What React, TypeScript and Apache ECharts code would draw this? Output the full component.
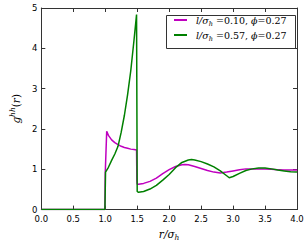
import React, { useEffect, useRef } from "react";
import * as echarts from "echarts";

const xTicks = [0, 0.5, 1, 1.5, 2, 2.5, 3, 3.5, 4];
const yTicks = [0, 1, 2, 3, 4, 5];

const magentaX = [0, 0.995, 1.0, 1.023, 1.05, 1.1, 1.15, 1.2, 1.25, 1.3, 1.35, 1.4, 1.45, 1.49, 1.495, 1.5, 1.52, 1.6, 1.7, 1.8, 1.9, 2.0, 2.1, 2.2, 2.25, 2.3, 2.4, 2.5, 2.6, 2.7, 2.8, 2.9, 3.0, 3.1, 3.2, 3.3, 3.4, 3.5, 3.6, 3.7, 3.8, 3.9, 4.0];
const magentaY = [0, 0, 0.9, 1.94, 1.84, 1.73, 1.66, 1.61, 1.57, 1.54, 1.52, 1.5, 1.49, 1.48, 0.72, 0.63, 0.63, 0.65, 0.7, 0.78, 0.89, 0.99, 1.07, 1.11, 1.12, 1.11, 1.07, 1.02, 0.97, 0.93, 0.91, 0.93, 0.96, 0.99, 1.01, 1.01, 1.01, 1.01, 1.0, 0.99, 0.98, 0.98, 0.98];

const greenX = [0, 0.995, 1.005, 1.05, 1.1, 1.15, 1.2, 1.25, 1.3, 1.35, 1.4, 1.45, 1.49, 1.5, 1.52, 1.6, 1.7, 1.8, 1.9, 2.0, 2.1, 2.2, 2.3, 2.35, 2.4, 2.5, 2.6, 2.7, 2.8, 2.9, 2.94, 3.0, 3.1, 3.2, 3.3, 3.4, 3.5, 3.6, 3.7, 3.8, 3.9, 4.0];
const greenY = [0, 0, 0.93, 1.05, 1.22, 1.38, 1.57, 1.92, 2.34, 2.85, 3.45, 4.2, 4.84, 0.45, 0.43, 0.45, 0.51, 0.6, 0.73, 0.87, 1.04, 1.17, 1.23, 1.24, 1.23, 1.19, 1.13, 1.06, 0.96, 0.84, 0.79, 0.82, 0.9, 0.97, 1.01, 1.03, 1.03, 1.01, 0.98, 0.96, 0.94, 0.93];

const seriesNames = ["m", "g"];
const seriesColors = ["#bf00bf", "#008000"];
const legendValues = [["0.10", "0.27"], ["0.57", "0.27"]];

const FRAME = "#333333";
const MATH = "'DejaVu Serif', serif";
const SANS = "'DejaVu Sans', sans-serif";

const makeRich = (fs: number, sfs: number, lh: number) => ({
  i: { fontFamily: MATH, fontStyle: "italic", fontSize: fs, color: "#000", lineHeight: lh },
  n: { fontFamily: MATH, fontSize: fs, color: "#000", lineHeight: lh },
  sub: { fontFamily: MATH, fontStyle: "italic", fontSize: sfs, color: "#000", lineHeight: lh - 1, verticalAlign: "bottom" as const },
  sup: { fontFamily: MATH, fontStyle: "italic", fontSize: sfs, color: "#000", lineHeight: lh - 1, verticalAlign: "top" as const },
});

export default function App() {
  const ref = useRef<HTMLDivElement>(null);
  useEffect(() => {
    if (!ref.current) return;
    const chart = echarts.init(ref.current, null, { renderer: "svg" });
    const pairs = (xs: number[], ys: number[]) => xs.map((x, i) => [x, ys[i]]);
    const axisRich = makeRich(10.5, 7.5, 15);
    const legendRich = makeRich(9.5, 6.5, 14);
    const axisCommonX = {
      type: "value" as const,
      min: 0,
      max: 4,
      interval: 0.5,
      splitLine: { show: false },
      axisLine: { show: true, onZero: false, lineStyle: { color: FRAME, width: 1 } },
      axisTick: { show: true, inside: true, length: 4, lineStyle: { color: FRAME } },
    };
    const axisCommonY = {
      type: "value" as const,
      min: 0,
      max: 5,
      interval: 1,
      splitLine: { show: false },
      axisLine: { show: true, onZero: false, lineStyle: { color: FRAME, width: 1 } },
      axisTick: { show: true, inside: true, length: 4, lineStyle: { color: FRAME } },
    };
    chart.setOption({
      animation: false,
      grid: { left: 29, top: 8, right: 10, bottom: 32, containLabel: false },
      xAxis: [
        {
          ...axisCommonX,
          position: "bottom",
          axisLabel: {
            show: true,
            fontFamily: SANS,
            fontSize: 8.5,
            lineHeight: 8,
            color: "#000",
            margin: 5,
            formatter: (v: number) => (xTicks.includes(v) ? v.toFixed(1) : ""),
          },
          name: "{i|r/σ}{sub|h}",
          nameLocation: "middle",
          nameGap: 13,
          nameTextStyle: { rich: axisRich },
        },
        { ...axisCommonX, position: "top", axisLabel: { show: false } },
      ],
      yAxis: [
        {
          ...axisCommonY,
          position: "left",
          axisLabel: {
            show: true,
            fontFamily: SANS,
            fontSize: 8.5,
            lineHeight: 6,
            color: "#000",
            margin: 4,
            formatter: (v: number) => (yTicks.includes(v) ? String(v) : ""),
          },
          name: "{i|g}{sup|hh}{n|(}{i|r}{n|)}",
          nameLocation: "middle",
          nameRotate: 90,
          nameGap: 10,
          nameTextStyle: { rich: axisRich },
        },
        { ...axisCommonY, position: "right", axisLabel: { show: false } },
      ],
      legend: {
        orient: "vertical",
        left: 164,
        top: 15,
        padding: [0, 0, 0, 10],
        itemGap: 3,
        itemWidth: 13,
        itemHeight: 2,
        icon: "rect",
        data: seriesNames,
        formatter: (name: string) => {
          const k = seriesNames.indexOf(name);
          const [a, b] = legendValues[k];
          return `{i|l/σ}{sub|h}{n| =${a}, }{i|ϕ}{n|=${b}}`;
        },
        textStyle: { rich: legendRich, padding: [0, 0, 0, 4] },
      },
      graphic: [
        {
          type: "rect",
          left: 164,
          top: 13,
          shape: { width: 129, height: 33 },
          style: { fill: "none", stroke: FRAME, lineWidth: 1 },
          silent: true,
        },
      ],
      series: seriesNames.map((name, k) => ({
        name,
        type: "line",
        xAxisIndex: 0,
        yAxisIndex: 0,
        data: k === 0 ? pairs(magentaX, magentaY) : pairs(greenX, greenY),
        showSymbol: false,
        symbol: "none",
        color: seriesColors[k],
        lineStyle: { color: seriesColors[k], width: 1.5 },
        clip: true,
      })),
    });
    return () => chart.dispose();
  }, []);
  return (
    <div
      ref={ref}
      style={{ position: "fixed", left: 0, top: 0, width: 307, height: 246, background: "#fff" }}
    />
  );
}
